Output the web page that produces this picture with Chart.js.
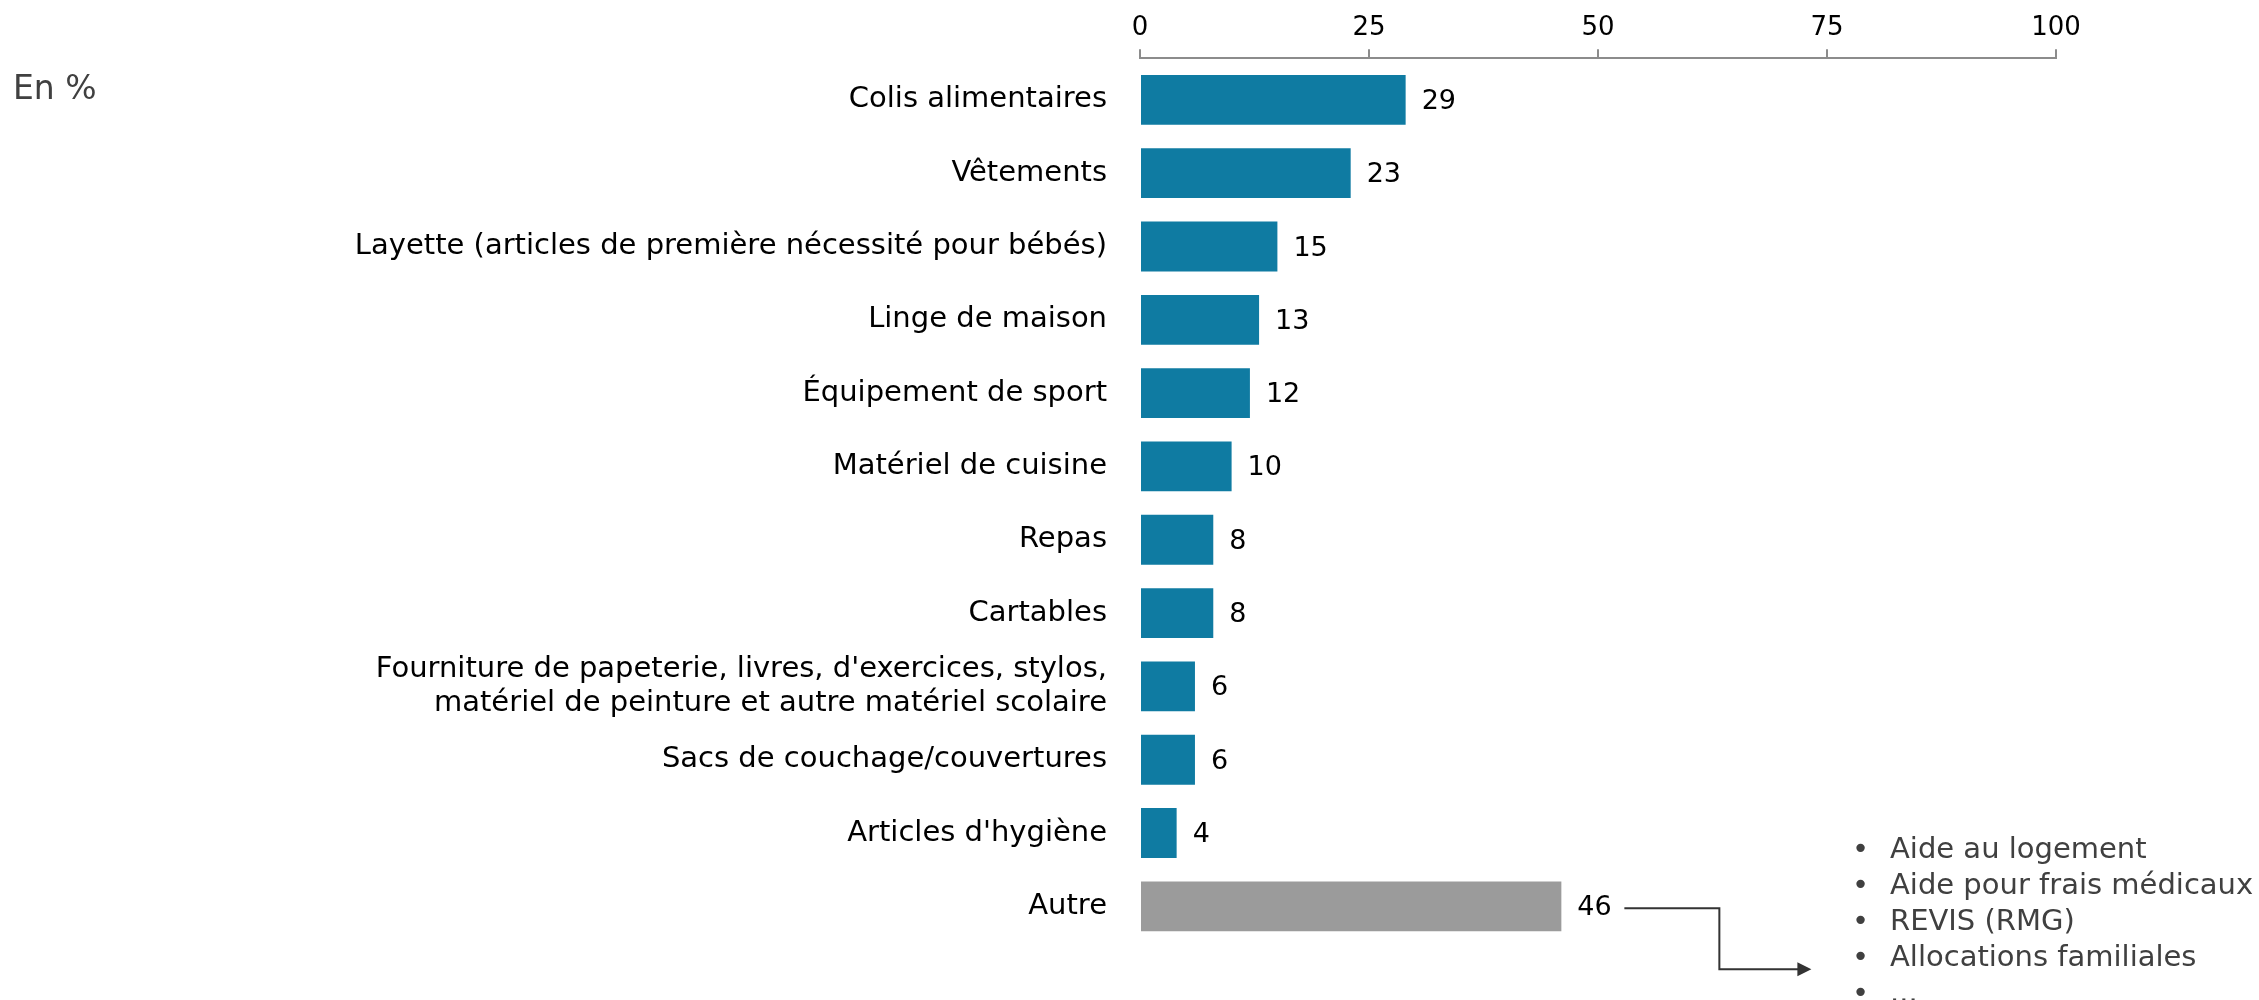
<!DOCTYPE html>
<html>
<head>
<meta charset="utf-8">
<script src="https://cdn.jsdelivr.net/npm/chart.js@4/dist/chart.umd.min.js"></script>
<style>
  html, body { margin: 0; padding: 0; background: #fff; }
  #wrap { width: 2259px; height: 1000px; }
</style>
</head>
<body>
<div id="wrap"><canvas id="chart"></canvas></div>
<script>
var categories = [
    "Colis alimentaires",
    "Vêtements",
    "Layette (articles de première nécessité pour bébés)",
    "Linge de maison",
    "Équipement de sport",
    "Matériel de cuisine",
    "Repas",
    "Cartables",
    ["Fourniture de papeterie, livres, d'exercices, stylos,", "matériel de peinture et autre matériel scolaire"],
    "Sacs de couchage/couvertures",
    "Articles d'hygiène",
    "Autre"
];
var values = [29, 23, 15, 13, 12, 10, 8, 8, 6, 6, 4, 46];
var xTicks = [0, 25, 50, 75, 100];
var autreDetails = ["Aide au logement", "Aide pour frais médicaux", "REVIS (RMG)", "Allocations familiales", "..."];

var FONT = "'DejaVu Sans', Verdana, sans-serif";
var blue = "#0f7ba2";
var grey = "#9b9b9b";

var barColors = values.map(function (v, i) { return i === values.length - 1 ? grey : blue; });

// value labels at the end of each bar + the "Autre" callout
var extras = {
    id: "extras",
    afterLayout: function (chart) {
        // axis line sits a few px above the first bar band
        var s = chart.scales.x;
        s.top -= 5;
        s.bottom -= 5;
    },
    afterDatasetsDraw: function (chart) {
        var ctx = chart.ctx;
        var meta = chart.getDatasetMeta(0);
        ctx.save();
        ctx.font = "27px " + FONT;
        ctx.fillStyle = "#000";
        ctx.textAlign = "left";
        ctx.textBaseline = "middle";
        meta.data.forEach(function (bar, i) {
            ctx.fillText(values[i], bar.x + 16, bar.y + 2);
        });

        // "En %"
        ctx.font = "33px " + FONT;
        ctx.fillStyle = "#404040";
        ctx.fillText("En %", 13, 90);

        // callout from Autre
        var last = meta.data[meta.data.length - 1];
        var y0 = last.y + 2;
        var x0 = last.x + 63;
        var xb = x0 + 95;
        var yb = y0 + 61;
        var xe = xb + 92;
        ctx.strokeStyle = "#333";
        ctx.lineWidth = 2;
        ctx.beginPath();
        ctx.moveTo(x0, y0);
        ctx.lineTo(xb, y0);
        ctx.lineTo(xb, yb);
        ctx.lineTo(xe - 12, yb);
        ctx.stroke();
        ctx.fillStyle = "#333";
        ctx.beginPath();
        ctx.moveTo(xe, yb);
        ctx.lineTo(xe - 14, yb - 7);
        ctx.lineTo(xe - 14, yb + 7);
        ctx.closePath();
        ctx.fill();

        ctx.font = "29px " + FONT;
        ctx.fillStyle = "#404040";
        autreDetails.forEach(function (t, i) {
            var ty = 850 + i * 36;
            ctx.fillText("•", 1852, ty);
            ctx.fillText(t, 1890, ty);
        });
        ctx.restore();
    }
};

new Chart(document.getElementById("chart"), {
    type: "bar",
    data: {
        labels: categories,
        datasets: [
            {
                data: values,
                backgroundColor: barColors,
                categoryPercentage: 0.68,
                barPercentage: 1.0
            }
        ]
    },
    options: {
        indexAxis: "y",
        responsive: true,
        maintainAspectRatio: false,
        animation: false,
        layout: { padding: { top: 13, right: 203, bottom: 57, left: 0 } },
        plugins: {
            legend: { display: false },
            tooltip: { enabled: false }
        },
        scales: {
            x: {
                position: "top",
                min: 0,
                max: 100,
                afterBuildTicks: function (scale) {
                    scale.ticks = xTicks.map(function (v) { return { value: v }; });
                },
                grid: {
                    drawOnChartArea: false,
                    drawTicks: true,
                    tickLength: 9,
                    color: "#8c8c8c",
                    lineWidth: 2
                },
                border: { display: true, color: "#8c8c8c", width: 2 },
                ticks: {
                    font: { family: FONT, size: 26 },
                    color: "#000",
                    padding: 5,
                    maxRotation: 0
                }
            },
            y: {
                afterFit: function (scale) { scale.width = 1140; },
                grid: { display: false, drawTicks: false },
                border: { display: false },
                ticks: {
                    font: { family: FONT, size: 29, lineHeight: 1.2 },
                    color: "#000",
                    padding: 33
                }
            }
        }
    },
    plugins: [extras]
});
</script>
</body>
</html>
